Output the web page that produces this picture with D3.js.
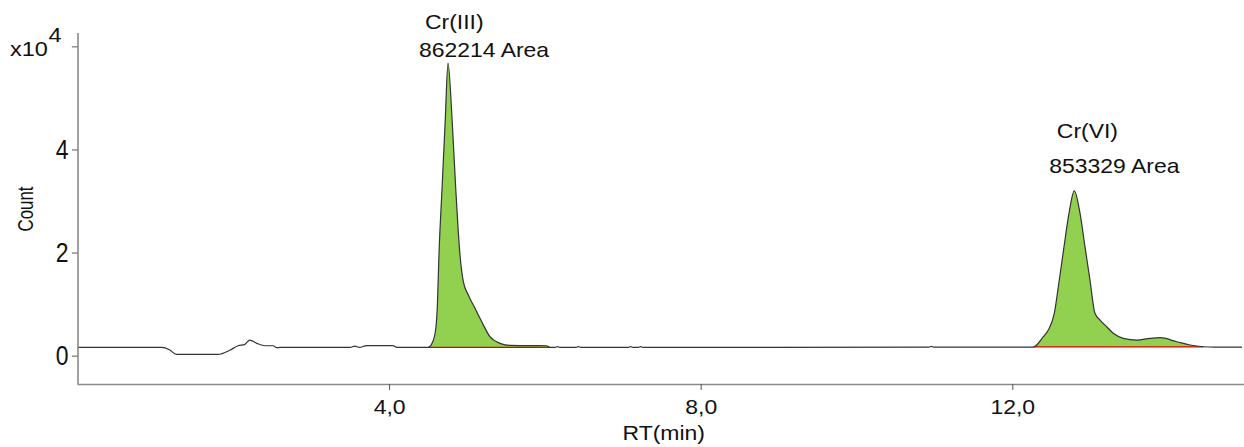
<!DOCTYPE html>
<html>
<head>
<meta charset="utf-8">
<script src="https://cdn.jsdelivr.net/npm/d3@7/dist/d3.min.js"></script>
<style>
  html, body { margin: 0; padding: 0; background: #fff; }
  svg { display: block; }
  text { font-family: "Liberation Sans", Arial, Helvetica, sans-serif; fill: #111; }
</style>
</head>
<body>
<svg id="chart" width="1244" height="447"></svg>
<script>
// Retention time (min) and detector counts of the chromatogram trace
const rtMinutes = [
  0.00, 1.08, 1.18, 1.27, 1.80, 1.96, 2.06, 2.15, 2.21, 2.30, 2.41, 2.51, 2.56, 2.60,
  3.50, 3.56, 3.62, 3.71, 4.05, 4.10,
  4.50, 4.56, 4.60, 4.62, 4.64, 4.68, 4.72, 4.756, 4.81, 4.855, 4.91, 4.953, 5.017,
  5.103, 5.189, 5.295, 5.424, 5.552, 5.80, 6.02, 6.065,
  6.13, 6.16, 6.19, 6.40, 6.43, 6.46, 7.07, 7.10, 7.13, 7.20, 7.23, 7.26,
  10.93, 10.96, 10.99,
  12.27, 12.398, 12.462, 12.539, 12.603, 12.664, 12.728, 12.796, 12.869, 12.933, 12.997,
  13.061, 13.126, 13.212, 13.297, 13.425, 13.597, 13.768, 13.897, 14.111, 14.282, 14.452,
  14.60, 14.95
];
const counts = [
  1600, 1600, 1150, 250, 250, 1090, 1920, 2190, 3030, 2390, 1920, 1920, 1550, 1600,
  1600, 1850, 1600, 1950, 1950, 1600,
  1600, 2700, 5360, 9830, 19530, 32540, 45420, 56760, 45420, 32540, 19530, 14350, 11770,
  9180, 6580, 3670, 2390, 2000, 1950, 1920, 1600,
  1600, 1750, 1600, 1600, 1750, 1600, 1600, 1750, 1600, 1600, 1750, 1600,
  1650, 1800, 1650,
  1650, 3670, 4970, 8210, 14680, 21150, 27630, 31960, 27630, 21150, 14680,
  8210, 6910, 5610, 4330, 3360, 3030, 3360, 3480, 2700, 2060, 1730,
  1650, 1650
];

// Integrated peaks
const peakNames = ["Cr(III)", "Cr(VI)"];
const peakAreas = [862214, 853329];
const peakStart = [4.50, 12.27];
const peakEnd = [6.065, 14.452];
const peakBaseline = [1600, 1700];

// Axis ticks
const xTicks = [4, 8, 12];
const yTicks = [0, 20000, 40000, 60000];
const yTickLabels = ["0", "2", "4", ""];

const svg = d3.select("#chart");
const W = 1244;
const plotLeft = 77.5, plotRight = 1246, plotTop = 34, plotBottom = 384;

const x = d3.scaleLinear().domain([0, 15]).range([plotLeft, plotRight]);
const y = d3.scaleLinear().domain([-5500, 62400]).range([plotBottom, plotTop]);

const trace = rtMinutes.map((t, i) => ({ t, c: counts[i] }));

// Peak fills down to the integration baseline
peakNames.forEach((name, k) => {
  const pts = trace.filter(d => d.t >= peakStart[k] - 1e-9 && d.t <= peakEnd[k] + 1e-9);
  const area = d3.area()
    .x(d => x(d.t))
    .y0(y(peakBaseline[k]))
    .y1(d => y(Math.max(d.c, peakBaseline[k])))
    .curve(d3.curveMonotoneX);
  svg.append("path")
    .datum(pts)
    .attr("d", area)
    .attr("fill", "#92d050")
    .attr("stroke", "none");
  svg.append("line")
    .attr("x1", x(peakStart[k])).attr("x2", x(peakEnd[k]))
    .attr("y1", y(peakBaseline[k])).attr("y2", y(peakBaseline[k]))
    .attr("stroke", "#e00000").attr("stroke-width", 1.2);
});

// Signal trace
const line = d3.line().x(d => x(d.t)).y(d => y(d.c)).curve(d3.curveMonotoneX);
svg.append("path")
  .datum(trace)
  .attr("d", line)
  .attr("fill", "none")
  .attr("stroke", "#333")
  .attr("stroke-width", 1.2);

// Axes
const xAxis = d3.axisBottom(x)
  .tickValues(xTicks)
  .tickSize(6)
  .tickPadding(9)
  .tickFormat(d => d.toFixed(1).replace(".", ","));
const gx = svg.append("g").attr("transform", `translate(0,${plotBottom})`).call(xAxis);
gx.select(".domain").attr("d", `M${plotLeft},0.5H${W}`).attr("stroke", "#8a8a8a").attr("stroke-width", 1.6);
gx.selectAll(".tick line").attr("stroke", "#555");
gx.selectAll(".tick text")
  .attr("font-size", 20.5)
  .attr("font-family", "Liberation Sans, Arial, sans-serif")
  .attr("fill", "#111")
  .attr("transform", "scale(1.12,1)");

const yAxis = d3.axisLeft(y)
  .tickValues(yTicks)
  .tickSize(5.6)
  .tickPadding(5)
  .tickFormat((d, i) => yTickLabels[i]);
const gy = svg.append("g").attr("transform", `translate(${plotLeft},0)`).call(yAxis);
gy.select(".domain").attr("d", `M0.5,${plotTop - 1}V${plotBottom}`).attr("stroke", "#8a8a8a").attr("stroke-width", 1.6);
gy.selectAll(".tick line").attr("stroke", "#555");
gy.selectAll(".tick text")
  .attr("font-size", 27)
  .attr("font-family", "Liberation Sans, Arial, sans-serif")
  .attr("fill", "#111")
  .attr("transform", "scale(0.85,1)");

// Helper for horizontally stretched text
function label(str, px, py, opts = {}) {
  const g = svg.append("g").attr("transform",
    `translate(${px},${py})` + (opts.rotate ? ` rotate(${opts.rotate})` : "") +
    ` scale(${opts.sx || 1.12},${opts.sy || 1})`);
  return g.append("text")
    .attr("text-anchor", opts.anchor || "start")
    .attr("font-size", opts.size || 20.5)
    .text(str);
}

// Axis exponent and titles
label("x10", 10, 55.5, { size: 21 });
label("4", 48.5, 41.5, { size: 21 });
label("Count", 33, 209, { rotate: -90, anchor: "middle", size: 20.5, sx: 0.82, sy: 1.12 });
label("RT(min)", (plotLeft + W) / 2 + 3, 440, { anchor: "middle", size: 20.5 });

// Peak annotations
const nameOffset = [[-23, -34.5], [-17.5, -53]];
const areaOffset = [[-29, -6], [-25, -18]];
peakNames.forEach((name, k) => {
  const pts = trace.filter(d => d.t >= peakStart[k] && d.t <= peakEnd[k]);
  const apex = pts.reduce((a, b) => (b.c > a.c ? b : a));
  const ax = x(apex.t), ay = y(apex.c);
  label(name, ax + nameOffset[k][0], ay + nameOffset[k][1]);
  label(`${peakAreas[k]} Area`, ax + areaOffset[k][0], ay + areaOffset[k][1]);
});
</script>
</body>
</html>
